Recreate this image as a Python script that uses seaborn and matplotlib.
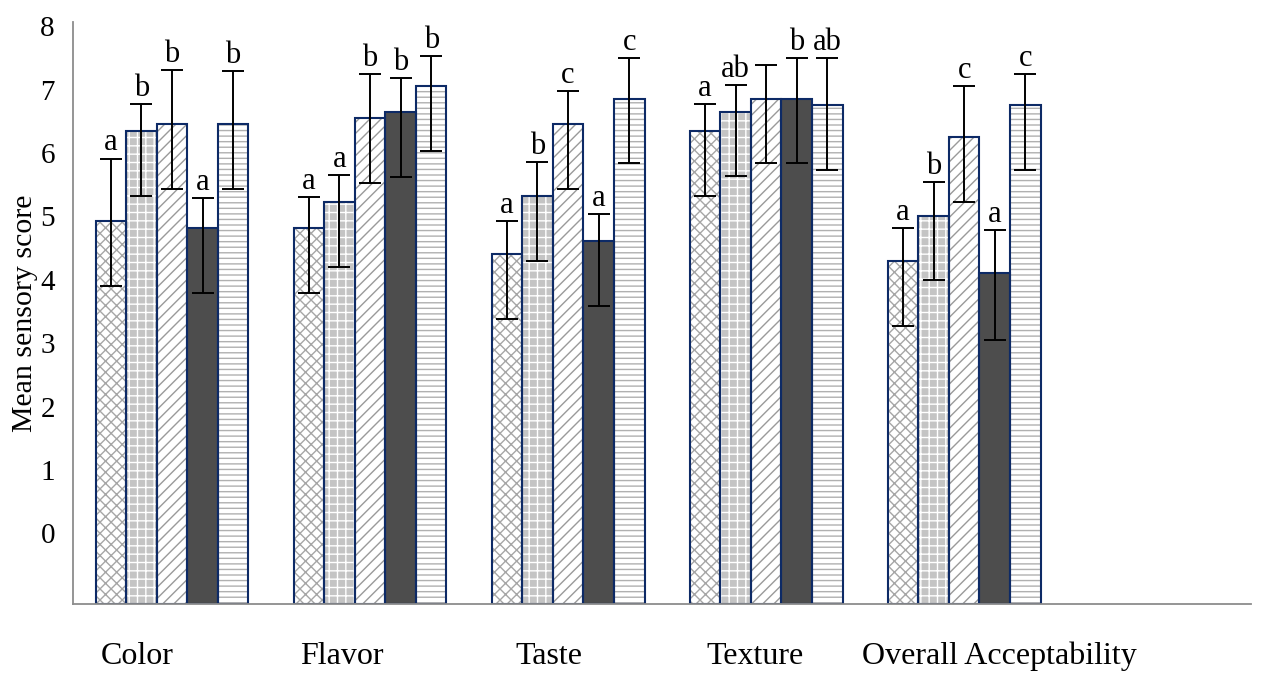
import numpy as np
import pandas as pd
import matplotlib.pyplot as plt
import seaborn as sns

# ---- data ----
attributes = ['Color', 'Flavor', 'Taste', 'Texture', 'Overall Acceptability']
samples = ['S1', 'S2', 'S3', 'S4', 'S5']

score_s1 = [4.92, 4.81, 4.40, 6.35, 4.30]
score_s2 = [6.35, 5.22, 5.32, 6.65, 5.01]
score_s3 = [6.45, 6.55, 6.45, 6.85, 6.25]
score_s4 = [4.81, 6.65, 4.61, 6.85, 4.10]
score_s5 = [6.45, 7.06, 6.85, 6.75, 6.76]

# error bar ends (upper / lower)
upper_s1 = [5.91, 5.30, 4.93, 6.77, 4.82]
upper_s2 = [6.77, 5.65, 5.85, 7.07, 5.54]
upper_s3 = [7.31, 7.24, 6.98, 7.38, 7.05]
upper_s4 = [5.29, 7.18, 5.03, 7.50, 4.78]
upper_s5 = [7.29, 7.53, 7.50, 7.50, 7.24]

lower_s1 = [3.90, 3.79, 3.38, 5.32, 3.27]
lower_s2 = [5.32, 4.20, 4.30, 5.64, 4.00]
lower_s3 = [5.43, 5.53, 5.43, 5.84, 5.22]
lower_s4 = [3.79, 5.62, 3.59, 5.84, 3.05]
lower_s5 = [5.43, 6.03, 5.84, 5.73, 5.73]

letters_s1 = ['a', 'a', 'a', 'a', 'a']
letters_s2 = ['b', 'a', 'b', 'ab', 'b']
letters_s3 = ['b', 'b', 'c', '', 'c']
letters_s4 = ['a', 'b', 'a', 'b', 'a']
letters_s5 = ['b', 'b', 'c', 'ab', 'c']

scores = [score_s1, score_s2, score_s3, score_s4, score_s5]
uppers = [upper_s1, upper_s2, upper_s3, upper_s4, upper_s5]
lowers = [lower_s1, lower_s2, lower_s3, lower_s4, lower_s5]
letters = [letters_s1, letters_s2, letters_s3, letters_s4, letters_s5]

rows = []
for s, vals in zip(samples, scores):
    for a, v in zip(attributes, vals):
        rows.append({'attribute': a, 'sample': s, 'score': v})
df = pd.DataFrame(rows)

# ---- style ----
sns.set_style('white')
plt.rcParams['font.family'] = ['Liberation Serif', 'DejaVu Serif']
plt.rcParams['text.color'] = 'black'
plt.rcParams['axes.labelcolor'] = 'black'
plt.rcParams['ytick.color'] = 'black'
plt.rcParams['hatch.linewidth'] = 1.0

BASE = -1.115  # where the x axis line sits
face = ['white', '#c4c4c4', 'white', '#4d4d4d', 'white']
hatch_col = ['#a6a6a6', 'white', '#9a9a9a', '#4d4d4d', '#b0b0b0']
hatches = ['xxx', '++', '///', '', '---']
navy = '#0d2a66'

fig = plt.figure(figsize=(12.67, 6.78), dpi=100)
ax = fig.add_axes([0.0576, 0.109, 0.930, 0.8585])

# layer 1: textured fills
sns.barplot(data=df, x='attribute', y='score', hue='sample', order=attributes,
            hue_order=samples, width=0.772, errorbar=None, legend=False,
            palette=face, linewidth=0, ax=ax)
fills = list(ax.patches)
for i in range(len(samples)):
    for j in range(len(attributes)):
        p = fills[i * len(attributes) + j]
        p.set_facecolor(face[i])
        p.set_edgecolor(hatch_col[i])
        p.set_hatch(hatches[i])
        p.set_linewidth(0)

# layer 2: navy outlines
sns.barplot(data=df, x='attribute', y='score', hue='sample', order=attributes,
            hue_order=samples, width=0.772, errorbar=None, legend=False,
            facecolor='none', edgecolor=navy, linewidth=1.5, ax=ax)

# bars run down to the axis line
for p in ax.patches:
    h = p.get_height()
    p.set_y(BASE)
    p.set_height(h - BASE)

# error bars and letters
for i in range(len(samples)):
    for j in range(len(attributes)):
        p = fills[i * len(attributes) + j]
        xc = p.get_x() + p.get_width() / 2
        v = scores[i][j]
        ax.errorbar(xc, v, yerr=[[v - lowers[i][j]], [uppers[i][j] - v]],
                    fmt='none', ecolor='black', elinewidth=1.4, capsize=8,
                    capthick=1.4, zorder=5)
        if letters[i][j]:
            ax.text(xc, uppers[i][j] + 0.13, letters[i][j], ha='center',
                    va='baseline', fontsize=22, color='black')

ax.set_xlim(-0.5, 5.45)
ax.set_ylim(BASE, 8.065)
ax.set_yticks(range(0, 9))
ax.tick_params(axis='y', length=0, labelsize=21, pad=13, labelcolor='black')
ax.set_xticks([])
ax.set_xlabel('')
ax.set_ylabel('Mean sensory score', fontsize=21.5, labelpad=2)

# category labels
label_x = [-0.174, 0.860, 1.904, 2.943, 4.18]
for lx, name in zip(label_x, attributes):
    ax.text(lx, -0.09, name, transform=ax.get_xaxis_transform(),
            ha='center', va='center', fontsize=23)

for side in ['top', 'right']:
    ax.spines[side].set_visible(False)
for side in ['left', 'bottom']:
    ax.spines[side].set_color('#8c8c8c')
    ax.spines[side].set_linewidth(1.3)

plt.savefig('out.png', dpi=100)
